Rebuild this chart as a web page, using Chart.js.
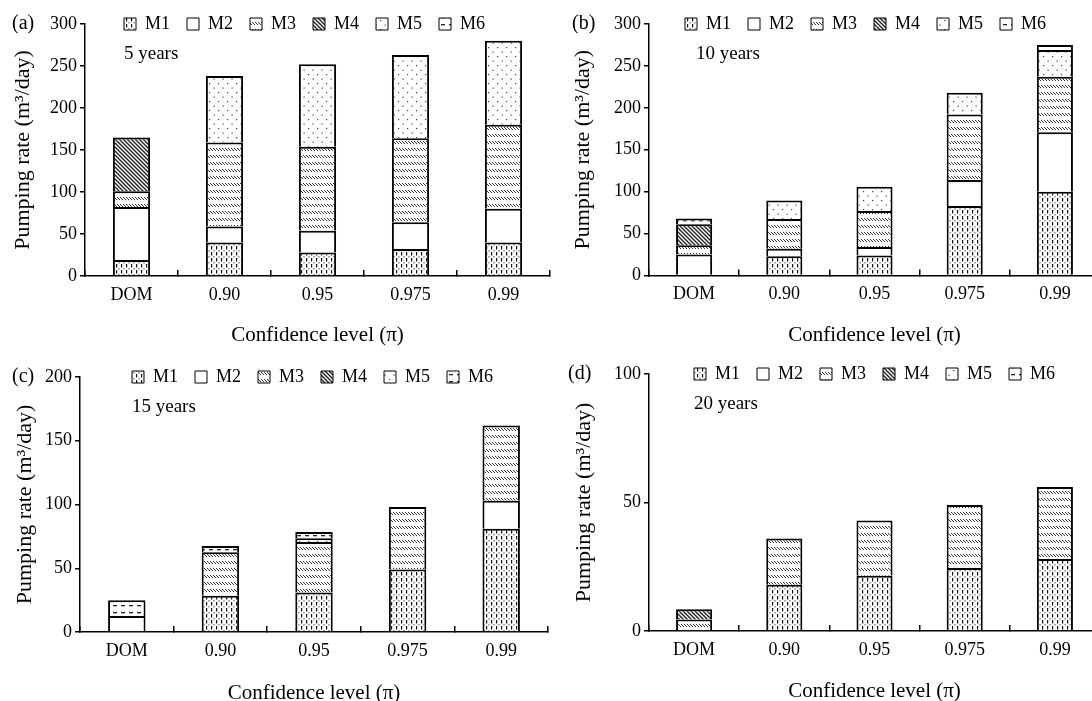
<!DOCTYPE html>
<html>
<head>
<meta charset="utf-8">
<script src="https://cdn.jsdelivr.net/npm/chart.js@4.4.1/dist/chart.umd.min.js"></script>
<style>
    html, body { margin: 0; padding: 0; background: #fff; overflow: hidden; width: 1092px; height: 701px; }
    canvas { position: absolute; }
</style>
</head>
<body>
<canvas id="chartA" width="560" height="350" style="left:0;top:0"></canvas>
<canvas id="chartB" width="560" height="350" style="left:546px;top:0"></canvas>
<canvas id="chartC" width="560" height="360" style="left:0;top:350px"></canvas>
<canvas id="chartD" width="560" height="360" style="left:546px;top:350px"></canvas>
<script>
const levels = ["DOM", "0.90", "0.95", "0.975", "0.99"];
const wells = ["M1", "M2", "M3", "M4", "M5", "M6"];

// (a) 5 years
const y5M1 = [19, 40, 28, 32, 40];
const y5M2 = [63, 19, 26, 32, 40];
const y5M3 = [19, 100, 100, 100, 100];
const y5M4 = [64, 0, 0, 0, 0];
const y5M5 = [0, 79, 98, 99, 100];
const y5M6 = [0, 0, 0, 0, 0];

// (b) 10 years
const y10M1 = [0, 23, 24, 83, 100];
const y10M2 = [25, 9, 10, 31, 71];
const y10M3 = [11, 35.5, 43, 78, 66];
const y10M4 = [25, 0, 0, 0, 0];
const y10M5 = [0, 22, 29, 26, 32];
const y10M6 = [7, 0, 0, 0, 6];

// (c) 15 years
const y15M1 = [0, 28.5, 31, 49, 81];
const y15M2 = [12.5, 0, 0, 0, 22];
const y15M3 = [0, 34, 39.5, 49, 59];
const y15M4 = [0, 0, 0, 0, 0];
const y15M5 = [0, 0, 3, 0, 0];
const y15M6 = [12.5, 5, 5, 0, 0];

// (d) 20 years
const y20M1 = [0, 18, 21.5, 24.5, 28];
const y20M2 = [0, 0, 0, 0, 0];
const y20M3 = [4.5, 18, 21.5, 24.5, 28];
const y20M4 = [4, 0, 0, 0, 0];
const y20M5 = [0, 0, 0, 0, 0];
const y20M6 = [0, 0, 0, 0, 0];

const serif = "'Liberation Serif', 'Times New Roman', serif";
Chart.defaults.font.family = serif;
Chart.defaults.color = "#000";

function makePattern(w, h, draw) {
    const c = document.createElement("canvas");
    c.width = w; c.height = h;
    const g = c.getContext("2d");
    g.fillStyle = "#fff";
    g.fillRect(0, 0, w, h);
    draw(g);
    return g.createPattern(c, "repeat");
}

const fills = [
    // M1 dashed columns
    makePattern(5, 6, g => {
        g.fillStyle = "#111";
        g.fillRect(1, 0, 1.2, 3.5);
        g.fillStyle = "#555";
        g.fillRect(3.5, 4, 1, 1.5);
    }),
    "#ffffff",
    // M3 rows of small backslashes
    makePattern(3, 7, g => {
        g.strokeStyle = "#333";
        g.lineWidth = 1;
        g.beginPath();
        g.moveTo(0, 1); g.lineTo(3, 4);
        g.stroke();
    }),
    // M4 dense diagonal hatch
    makePattern(4, 4, g => {
        g.strokeStyle = "#222";
        g.lineWidth = 1.4;
        g.beginPath();
        g.moveTo(0, 0); g.lineTo(4, 4);
        g.moveTo(-1, 3); g.lineTo(1, 5);
        g.moveTo(3, -1); g.lineTo(5, 1);
        g.stroke();
    }),
    // M5 sparse dots
    makePattern(9, 9, g => {
        g.fillStyle = "#444";
        g.fillRect(2, 2, 1.2, 1.2);
        g.fillRect(6.5, 6.5, 1.2, 1.2);
    }),
    // M6 dash rows
    makePattern(8, 7, g => {
        g.fillStyle = "#222";
        g.fillRect(1, 3, 4, 1.3);
    })
];

function buildSets(series) {
    return wells.map((name, i) => ({
        label: name,
        data: series[i].map(v => v || null),
        backgroundColor: fills[i],
        borderColor: "#000",
        borderWidth: 2,
        borderSkipped: "start",
        barPercentage: 0.4,
        categoryPercentage: 1
    }));
}

const legendPad = 17;
const legendFont = 18;

// panel tag, years text, and the legend row moved into the plot area
const panelText = {
    id: "panelText",
    afterLayout(chart, args, opts) {
        const lg = chart.legend, ca = chart.chartArea;
        lg.left = ca.left + opts.legendX - legendPad;
        lg.right = lg.left + 520;
        lg.top = ca.top - legendPad - legendFont / 2;
        lg.bottom = lg.top + 60;
    },
    afterDraw(chart, args, opts) {
        const ctx = chart.ctx, ca = chart.chartArea;
        ctx.save();
        ctx.fillStyle = "#000";
        ctx.textBaseline = "middle";
        ctx.font = "20px " + serif;
        ctx.fillText(opts.tag, opts.tagX, opts.tagY);
        ctx.font = "19px " + serif;
        ctx.fillText(opts.years, ca.left + opts.yearsX, ca.top + 30);
        ctx.restore();
    }
};

function drawPanel(id, series, p) {
    new Chart(document.getElementById(id), {
        type: "bar",
        data: { labels: levels, datasets: buildSets(series) },
        plugins: [panelText],
        options: {
            responsive: false,
            animation: false,
            layout: { padding: { top: p.top - 1, right: p.right, left: 0, bottom: 0 } },
            plugins: {
                tooltip: { enabled: false },
                legend: {
                    position: "top",
                    align: "start",
                    maxHeight: 1,
                    labels: {
                        boxWidth: 12,
                        boxHeight: 12,
                        padding: legendPad,
                        color: "#000",
                        font: { family: serif, size: legendFont },
                        generateLabels: chart => Chart.defaults.plugins.legend.labels.generateLabels(chart)
                            .map(l => Object.assign(l, { lineWidth: 1 }))
                    }
                },
                panelText: p.text
            },
            scales: {
                x: {
                    stacked: true,
                    offset: true,
                    grid: { offset: true, drawOnChartArea: false, drawTicks: true, tickLength: -6, color: "#000", lineWidth: 1.5 },
                    border: { color: "#000", width: 1.5 },
                    ticks: { padding: 14, color: "#000", font: { size: 18 } },
                    title: { display: true, text: "Confidence level (π)", color: "#000", font: { size: 21 }, padding: { top: 0, bottom: p.xTitlePad } },
                    afterFit: s => { s.height = p.xHeight; }
                },
                y: {
                    stacked: true,
                    min: 0,
                    max: p.max,
                    ticks: { stepSize: 50, padding: 3, color: "#000", font: { size: 18 } },
                    grid: { drawOnChartArea: false, tickLength: 5, color: "#000", lineWidth: 1.5 },
                    border: { color: "#000", width: 1.5 },
                    title: { display: true, text: "Pumping rate (m³/day)", color: "#000", font: { size: 22 }, padding: { top: p.yTitlePad, bottom: 0 } },
                    afterFit: s => { s.width = p.yWidth; }
                }
            }
        }
    });
}

drawPanel("chartA", [y5M1, y5M2, y5M3, y5M4, y5M5, y5M6], {
    max: 300, top: 24, right: 10, xHeight: 74, yWidth: 85, xTitlePad: 2, yTitlePad: 10,
    text: { tag: "(a)", tagX: 12, tagY: 24, years: "5 years", yearsX: 39, legendX: 39 }
});
drawPanel("chartB", [y10M1, y10M2, y10M3, y10M4, y10M5, y10M6], {
    max: 300, top: 24, right: 6, xHeight: 74.5, yWidth: 103, xTitlePad: 2, yTitlePad: 24,
    text: { tag: "(b)", tagX: 26, tagY: 24, years: "10 years", yearsX: 47, legendX: 36 }
});
drawPanel("chartC", [y15M1, y15M2, y15M3, y15M4, y15M5, y15M6], {
    max: 200, top: 27, right: 12, xHeight: 78, yWidth: 80, xTitlePad: 4, yTitlePad: 12,
    text: { tag: "(c)", tagX: 12, tagY: 27, years: "15 years", yearsX: 52, legendX: 52 }
});
drawPanel("chartD", [y20M1, y20M2, y20M3, y20M4, y20M5, y20M6], {
    max: 100, top: 24, right: 6, xHeight: 79, yWidth: 103, xTitlePad: 6, yTitlePad: 25,
    text: { tag: "(d)", tagX: 22, tagY: 24, years: "20 years", yearsX: 45, legendX: 45 }
});
</script>
</body>
</html>
